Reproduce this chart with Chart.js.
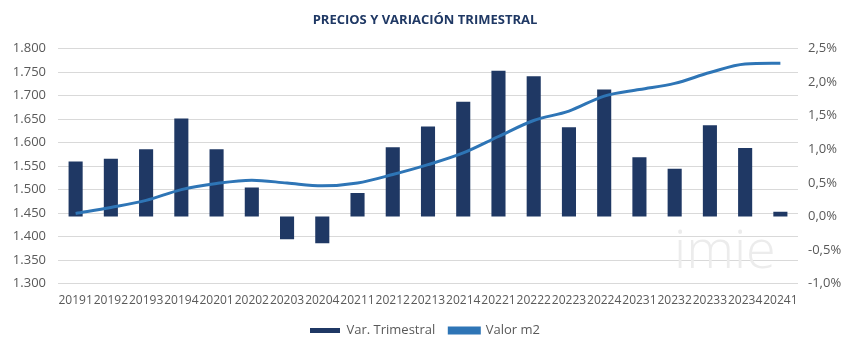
<!DOCTYPE html>
<html>
<head>
<meta charset="utf-8">
<script src="https://cdn.jsdelivr.net/npm/chart.js@4/dist/chart.umd.min.js"></script>
<style>
    html, body { margin: 0; padding: 0; background: #ffffff; }
    #wrap { width: 850px; height: 353px; }
</style>
</head>
<body>
<div id="wrap"><canvas id="chart" width="850" height="353"></canvas></div>
<script>
// data
const quarters = ["20191","20192","20193","20194","20201","20202","20203","20204","20211","20212","20213",
    "20214","20221","20222","20223","20224","20231","20232","20233","20234","20241"];

const varTrimestral = [0.82, 0.86, 1.00, 1.46, 1.00, 0.43, -0.34, -0.40, 0.35, 1.03, 1.34,
    1.71, 2.17, 2.09, 1.33, 1.89, 0.88, 0.71, 1.36, 1.02, 0.07];

const valorM2 = [1449, 1462, 1477, 1500, 1513, 1520, 1514, 1508, 1514, 1532, 1553,
    1578, 1613, 1647, 1667, 1699, 1713, 1726, 1749, 1767, 1769];

const leftTicks = [1300, 1800, 50];
const rightTicks = [-1, 2.5, 0.5];

const navy = "#1f3864";
const blue = "#2e75b6";
const grey = "#595959";

// "imie" watermark
const watermark = {
    id: "watermark",
    beforeDatasetsDraw(c) {
        const ctx = c.ctx;
        ctx.save();
        ctx.font = "300 54px 'Open Sans'";
        ctx.fillStyle = "#ececec";
        ctx.textAlign = "left";
        ctx.textBaseline = "alphabetic";
        ctx.fillText("imie", 674, 268);
        ctx.restore();
    }
};

Chart.defaults.font.family = "'Open Sans', sans-serif";
Chart.defaults.font.size = 12;
Chart.defaults.color = grey;

new Chart(document.getElementById("chart"), {
    type: "bar",
    data: {
        labels: quarters,
        datasets: [
            {
                type: "bar",
                label: "Var. Trimestral",
                data: varTrimestral,
                backgroundColor: navy,
                borderWidth: 0,
                barPercentage: 0.4,
                categoryPercentage: 1,
                yAxisID: "yR",
                order: 1
            },
            {
                type: "line",
                label: "Valor m2",
                data: valorM2,
                borderColor: blue,
                backgroundColor: blue,
                borderWidth: 3,
                pointRadius: 0,
                tension: 0.4,
                cubicInterpolationMode: "monotone",
                yAxisID: "yL",
                order: 0
            }
        ]
    },
    plugins: [watermark],
    options: {
        responsive: false,
        animation: false,
        layout: { padding: { top: 0, bottom: 6, left: 0, right: 0 } },
        scales: {
            x: {
                grid: { display: false },
                border: { display: false },
                ticks: { autoSkip: false, maxRotation: 0, minRotation: 0, padding: 2, color: grey }
            },
            yL: {
                position: "left",
                min: leftTicks[0],
                max: leftTicks[1],
                ticks: {
                    stepSize: leftTicks[2],
                    padding: 12,
                    font: { size: 13 },
                    callback: v => (v / 1000).toFixed(3)
                },
                grid: { color: "#d9d9d9", drawTicks: false },
                border: { display: false },
                afterFit: s => { s.width = 58; }
            },
            yR: {
                position: "right",
                min: rightTicks[0],
                max: rightTicks[1],
                ticks: {
                    stepSize: rightTicks[2],
                    padding: 10,
                    font: { size: 13 },
                    callback: v => v.toFixed(1).replace(".", ",") + "%"
                },
                grid: { display: false, drawTicks: false },
                border: { display: false },
                afterFit: s => { s.width = 52; }
            }
        },
        plugins: {
            title: {
                display: true,
                text: "PRECIOS Y VARIACIÓN TRIMESTRAL",
                color: navy,
                font: { size: 13, weight: "bold" },
                padding: { top: 12, bottom: 21 }
            },
            legend: {
                position: "bottom",
                labels: {
                    boxWidth: 30,
                    boxHeight: 5,
                    padding: 14,
                    color: grey,
                    font: { size: 13 },
                    sort: (a, b) => a.datasetIndex - b.datasetIndex
                }
            },
            tooltip: { enabled: false }
        }
    }
});
</script>
</body>
</html>
